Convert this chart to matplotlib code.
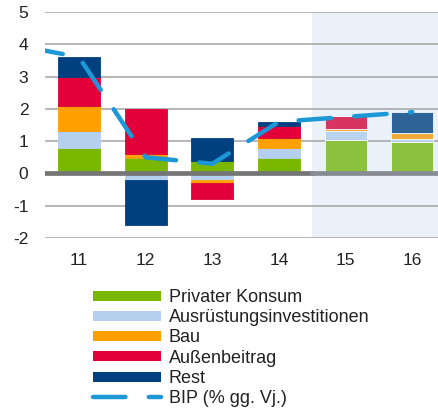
import matplotlib
matplotlib.use("Agg")
import numpy as np
import matplotlib.pyplot as plt
from matplotlib.lines import Line2D

plt.rcParams['font.family'] = ['Liberation Sans', 'DejaVu Sans']
plt.rcParams['axes.unicode_minus'] = False

# Jahre (20xx), 15 und 16 sind Prognose
years = [11, 12, 13, 14, 15, 16]
konsum = [0.8, 0.48, 0.38, 0.48, 1.04, 0.96]
ausruestung = [0.5, -0.2, -0.2, 0.32, 0.27, 0.1]
bau = [0.8, 0.11, -0.1, 0.29, 0.08, 0.2]
aussenbeitrag = [0.9, 1.4, -0.5, 0.39, 0.38, 0.0]
rest = [0.6, -1.4, 0.71, 0.11, 0.0, 0.63]

bip_years = [10, 11, 12, 13, 14, 15, 16]
bip = [4.0, 3.6, 0.5, 0.3, 1.6, 1.75, 1.9]

labels = ['Privater Konsum', 'Ausrüstungsinvestitionen', 'Bau',
          'Außenbeitrag', 'Rest']
colors = ['#7ab800', '#b4d0ee', '#ffa000', '#e2003a', '#00407f']
colors_fc = ['#8cc03f', '#b7d3ee', '#eeaa3a', '#d7355f', '#2e6398']
first_forecast = 15
bip_color = '#1b98d5'

series = [konsum, ausruestung, bau, aussenbeitrag, rest]

fig = plt.figure(figsize=(4.39, 4.12), dpi=100)
ax = fig.add_axes([45 / 439, 1 - 238 / 412, 394 / 439, 226 / 412])

xlim = (10.49, 16.4)
ax.set_xlim(*xlim)
ax.set_ylim(-2, 5)

# Prognosebereich
ax.axvspan(first_forecast - 0.5, xlim[1], color='#eaf1f9', zorder=0, lw=0)

ax.set_yticks(range(-2, 6))
ax.grid(axis='y', color='#a3a3a3', lw=1.1, zorder=1)
ax.set_axisbelow(True)

pos = np.zeros(len(years))
neg = np.zeros(len(years))
for vals, c, cf in zip(series, colors, colors_fc):
    vals = np.array(vals)
    bottoms = np.where(vals >= 0, pos, neg)
    cols = [cf if y >= first_forecast else c for y in years]
    edges = ['#f4f8fc' if y >= first_forecast else c for y in years]
    ax.bar(years, vals, bottom=bottoms, width=0.63, color=cols,
           edgecolor=edges, linewidth=0.6, zorder=2)
    pos = pos + np.where(vals >= 0, vals, 0)
    neg = neg + np.where(vals < 0, vals, 0)

frac = (first_forecast - 0.5 - xlim[0]) / (xlim[1] - xlim[0])
ax.axhline(0, xmax=frac, color='#757575', lw=3.4, zorder=3)
ax.axhline(0, xmin=frac, color='#878b94', lw=3.4, zorder=3)

ax.plot(bip_years, bip, color=bip_color, lw=3.2,
        ls=(8.3, (7.3, 5.25)), dash_capstyle='round', zorder=4)

ax.set_xticks(years)
ax.set_xticklabels([str(y) for y in years])
ax.tick_params(length=0, labelsize=12.5, colors='#222222')
ax.tick_params(axis='y', pad=12)
ax.tick_params(axis='x', pad=11)
for s in ax.spines.values():
    s.set_visible(False)

handles = [Line2D([], [], color=c, lw=7.2, solid_capstyle='butt')
           for c in colors]
handles.append(Line2D([], [], color=bip_color, lw=3.2,
                      ls=(0, (7.3, 5.25)), dash_capstyle='round'))
fig.legend(handles, labels + ['BIP (% gg. Vj.)'], loc='upper left',
           bbox_to_anchor=(93 / 439, 1 - 289 / 412), frameon=False,
           fontsize=13, handlelength=3.75, handletextpad=0.44,
           labelspacing=0.18, borderpad=0, borderaxespad=0,
           labelcolor='#222222')

fig.savefig('out.png', dpi=100)
